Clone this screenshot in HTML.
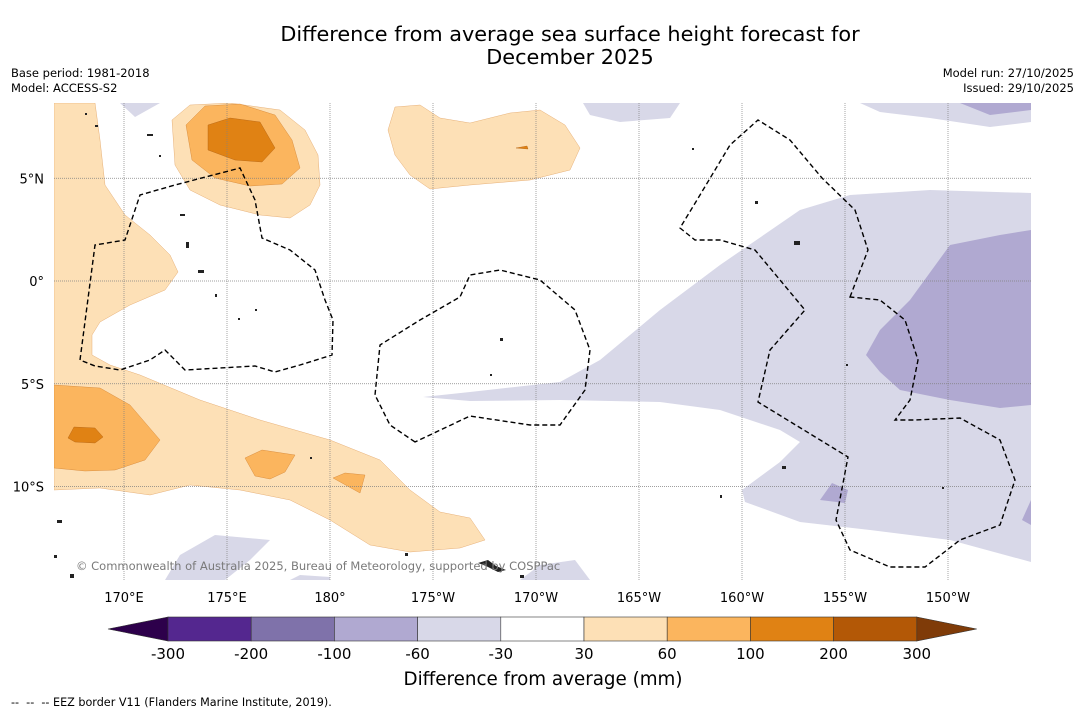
<!DOCTYPE html>
<html><head><meta charset="utf-8">
<style>
html,body{margin:0;padding:0;background:#fff;}
body{width:1085px;height:713px;overflow:hidden;font-family:"DejaVu Sans","Liberation Sans",sans-serif;}
svg{display:block}
</style></head>
<body>
<svg id="fig" width="1085" height="713" viewBox="0 0 1085 713" xmlns="http://www.w3.org/2000/svg" font-family="DejaVu Sans, Liberation Sans, sans-serif">
<text x="570" y="41" font-size="20.8" text-anchor="middle">Difference from average sea surface height forecast for</text>
<text x="570" y="64" font-size="20.8" text-anchor="middle">December 2025</text>
<text x="11" y="77" font-size="11.5">Base period: 1981-2018</text>
<text x="11" y="92" font-size="11.5">Model: ACCESS-S2</text>
<text x="1074" y="77" font-size="11.5" text-anchor="end">Model run: 27/10/2025</text>
<text x="1074" y="92" font-size="11.5" text-anchor="end">Issued: 29/10/2025</text>

<defs><clipPath id="mapclip"><rect x="54" y="103" width="977" height="477"/></clipPath></defs>
<g clip-path="url(#mapclip)">
 <rect x="54" y="103" width="977" height="477" fill="#fff"/>
 <g fill="#d8d8e8">
  <path d="M423,397 L470,392 L560,382 L600,360 L660,310 L720,265 L800,210 L850,195 L930,190 L1031,193 L1031,562 L950,540 L870,530 L800,522 L745,502 L742,490 L780,462 L800,442 L780,430 L720,410 L660,402 L560,400 L470,401 Z"/>
  <path d="M165,580 L180,555 L215,535 L270,540 L250,560 L225,580 Z"/>
  <path d="M290,580 L300,575 L330,577 L330,580 Z"/>
  <path d="M520,580 L540,565 L575,560 L590,580 Z"/>
  <path d="M120,103 L160,103 L135,117 Z"/>
  <path d="M583,103 L680,103 L670,118 L620,122 L590,115 Z"/>
  <path d="M860,103 L1031,103 L1031,122 L990,127 L930,118 L880,112 Z"/>
 </g>
 <g fill="#b0a9d1">
  <path d="M866,355 L880,330 L910,300 L950,245 L1000,235 L1031,230 L1031,405 L1000,408 L950,400 L900,390 L880,372 Z"/>
  <path d="M960,103 L1031,103 L1031,110 L990,115 Z"/>
  <path d="M820,500 L832,483 L848,490 L845,503 Z"/>
  <path d="M1022,520 L1031,500 L1031,525 Z"/>
 </g>
 <g fill="#fde0b6" stroke="#e0a060" stroke-width="0.4">
  <path d="M54,103 L95,103 L100,140 L105,185 L125,215 L150,235 L170,255 L178,272 L165,290 L130,305 L100,322 L92,335 L92,355 L110,365 L140,375 L200,400 L260,420 L330,440 L380,460 L410,490 L440,512 L470,518 L485,540 L460,548 L410,552 L370,545 L330,520 L290,500 L240,490 L190,485 L150,495 L100,488 L54,490 Z"/>
  <path d="M172,120 L190,105 L230,103 L280,110 L305,130 L318,155 L320,185 L310,205 L290,218 L260,215 L220,205 L190,190 L175,165 Z"/>
  <path d="M395,107 L420,105 L440,118 L470,123 L510,113 L540,110 L565,125 L580,148 L570,170 L530,180 L470,185 L430,189 L410,175 L395,155 L388,130 Z"/>
 </g>
 <g fill="#fbb55e" stroke="#d08030" stroke-width="0.4">
  <path d="M54,385 L100,388 L130,405 L160,440 L145,460 L115,470 L85,471 L54,468 Z"/>
  <path d="M186,125 L205,106 L240,104 L275,115 L292,140 L300,168 L282,184 L250,186 L215,178 L192,160 Z"/>
  <path d="M245,458 L262,450 L295,455 L285,472 L270,479 L255,476 Z"/>
  <path d="M333,478 L345,473 L365,475 L360,493 Z"/>
 </g>
 <g fill="#e08214" stroke="#b06010" stroke-width="0.4">
  <path d="M208,125 L230,118 L260,122 L275,148 L262,162 L235,160 L208,150 Z"/>
  <path d="M68,438 L74,427 L95,428 L103,437 L95,443 L75,442 Z"/>
  <path d="M516,148 L527,146 L528,149 Z"/>
 </g>
 <g id="grid" stroke="#808080" stroke-width="0.7" stroke-dasharray="1,1"></g>
 <g fill="none" stroke="#000" stroke-width="1.4" stroke-dasharray="5,3">
  <path d="M80,360 L95,245 L125,240 L140,195 L175,185 L240,168 L255,200 L262,238 L290,250 L315,270 L325,300 L333,320 L332,355 L300,365 L275,372 L255,366 L185,370 L165,350 L150,360 L120,370 L95,366 Z"/>
  <path d="M415,442 L390,425 L375,395 L380,345 L420,320 L460,297 L470,275 L500,270 L540,280 L575,310 L590,350 L585,390 L560,425 L530,425 L470,416 Z"/>
  <path d="M850,297 L868,250 L855,210 L822,178 L790,140 L758,120 L730,145 L700,195 L680,228 L695,240 L720,240 L755,250 L780,280 L805,310 L770,350 L758,402 L848,457 L836,520 L850,550 L890,567 L925,567 L960,540 L1000,525 L1015,480 L1000,440 L960,418 L915,420 L895,420 L910,400 L918,360 L905,320 L880,300 Z"/>
 </g>
 <g fill="#222">
  <rect x="85" y="113" width="2" height="2"/><rect x="95" y="125" width="3" height="2"/><rect x="147" y="134" width="6" height="2"/><rect x="159" y="155" width="2" height="2"/>
  <rect x="180" y="214" width="5" height="2"/><rect x="186" y="242" width="3" height="6"/><rect x="198" y="270" width="6" height="3"/><rect x="215" y="294" width="2" height="3"/>
  <rect x="238" y="318" width="2" height="2"/><rect x="255" y="309" width="2" height="2"/><rect x="500" y="338" width="3" height="3"/><rect x="490" y="374" width="2" height="2"/>
  <rect x="755" y="201" width="3" height="3"/><rect x="794" y="241" width="6" height="4"/><rect x="782" y="466" width="4" height="3"/><rect x="720" y="495" width="2" height="3"/>
  <rect x="57" y="520" width="5" height="3"/><rect x="70" y="574" width="4" height="4"/><rect x="54" y="555" width="3" height="3"/><rect x="405" y="553" width="3" height="3"/>
  <path d="M478,563 L488,560 L496,566 L506,570 L498,572 L486,566 Z"/><rect x="520" y="575" width="4" height="3"/><rect x="310" y="457" width="2" height="2"/>
  <rect x="692" y="148" width="2" height="2"/><rect x="846" y="364" width="2" height="2"/><rect x="942" y="487" width="2" height="2"/>
 </g>
 <text x="76" y="570" font-size="11.5" fill="#7a7a7a">© Commonwealth of Australia 2025, Bureau of Meteorology, supported by COSPPac</text>
</g>
<g id="axislabels" font-size="13"></g>
<g id="cbar"></g>
<text x="543" y="685" font-size="18.3" text-anchor="middle">Difference from average (mm)</text>
<text x="11" y="706" font-size="11.2" xml:space="preserve">--  --  -- EEZ border V11 (Flanders Marine Institute, 2019).</text>
</svg>
<script>
const lonLabels=["170°E","175°E","180°","175°W","170°W","165°W","160°W","155°W","150°W"];
const lonValues=[170,175,180,185,190,195,200,205,210];
const latLabels=["5°N","0°","5°S","10°S"];
const latValues=[5,0,-5,-10];
const levels=["-300","-200","-100","-60","-30","30","60","100","200","300"];
const binColors=["#54278f","#7f72aa","#b0a9d1","#d8d8e8","#ffffff","#fde0b6","#fbb55e","#e08214","#b35806"];
const lowColor="#2d004b", highColor="#7f3b08";
const NS="http://www.w3.org/2000/svg";
const xLon=l=>124+(l-170)*20.6;
const yLat=v=>281-v*20.55;
const grid=document.getElementById('grid'), ax=document.getElementById('axislabels');
function mk(t,a,p){const e=document.createElementNS(NS,t);for(const k in a)e.setAttribute(k,a[k]);p.appendChild(e);return e;}
lonValues.forEach((v,i)=>{
 const ln=mk('line',{x1:xLon(v),x2:xLon(v),y1:103,y2:580},grid);
 
 
 const t=mk('text',{x:xLon(v),y:602,'text-anchor':'middle'},ax);t.textContent=lonLabels[i];
 
 
});
latValues.forEach((v,i)=>{
 const ln=mk('line',{x1:54,x2:1031,y1:yLat(v),y2:yLat(v)},grid);
 
 
 const t=mk('text',{x:44,y:yLat(v)+5,'text-anchor':'end'},ax);t.textContent=latLabels[i];
 
 
});
const cb=document.getElementById('cbar');
const x0=168,w=83.2,y0=617,h=24;
const lt=mk('path',{d:`M${x0},${y0} L108,${y0+h/2} L${x0},${y0+h} Z`,fill:lowColor,stroke:'#333','stroke-width':0.6},cb);


binColors.forEach((c,i)=>{
 const r=mk('rect',{x:x0+i*w,y:y0,width:w,height:h,fill:c,stroke:'#333','stroke-width':0.6},cb);
 
 
});
const xe=x0+binColors.length*w;
const rt=mk('path',{d:`M${xe},${y0} L${xe+60},${y0+h/2} L${xe},${y0+h} Z`,fill:highColor,stroke:'#333','stroke-width':0.6},cb);


levels.forEach((l,i)=>{
 const t=mk('text',{x:x0+i*w,y:659,'text-anchor':'middle','font-size':15},cb);t.textContent=l;
 
 
});
</script>
</body></html>
